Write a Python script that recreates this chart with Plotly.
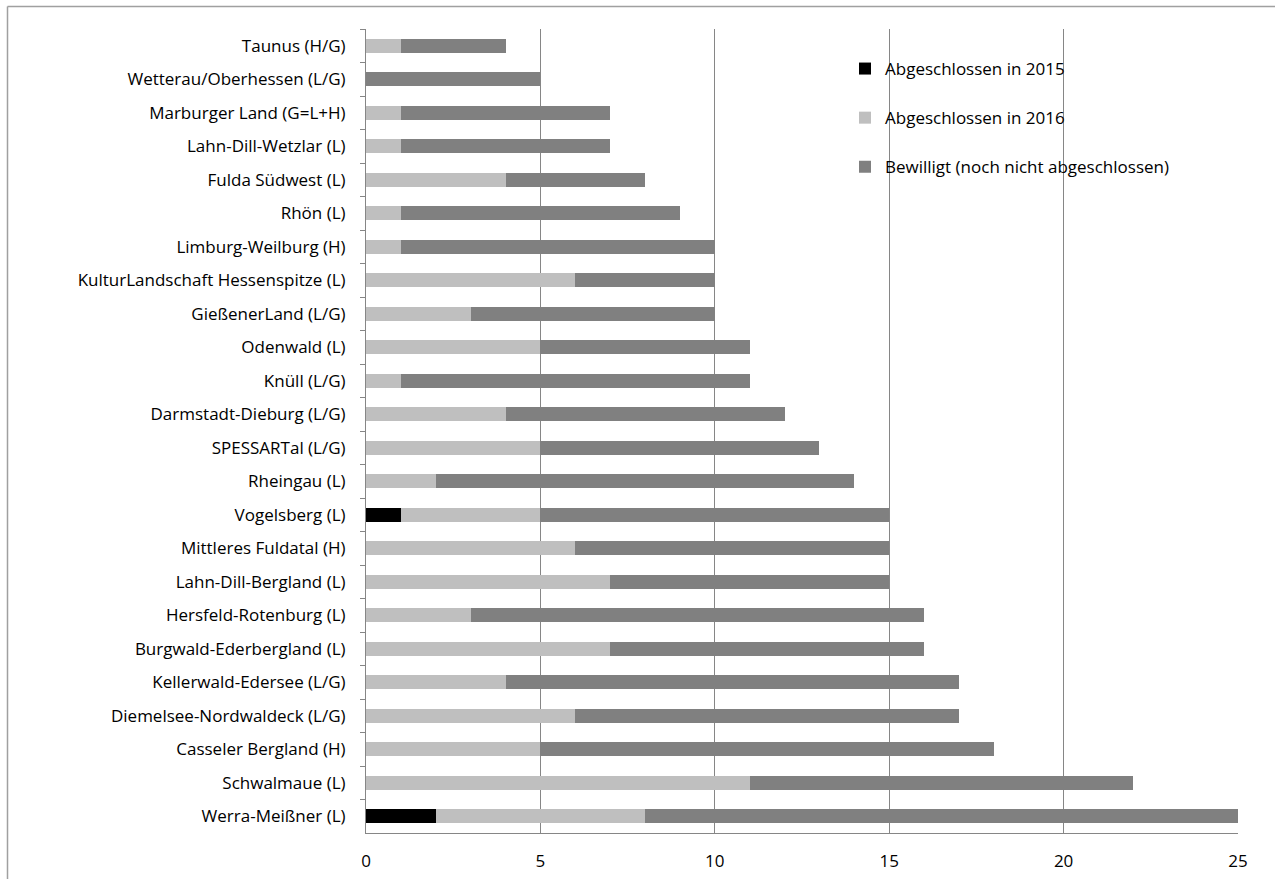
import plotly.graph_objects as go

# Regions (top to bottom as listed)
regions = [
    "Taunus (H/G)",
    "Wetterau/Oberhessen (L/G)",
    "Marburger Land (G=L+H)",
    "Lahn-Dill-Wetzlar (L)",
    "Fulda Südwest (L)",
    "Rhön (L)",
    "Limburg-Weilburg (H)",
    "KulturLandschaft Hessenspitze (L)",
    "GießenerLand (L/G)",
    "Odenwald (L)",
    "Knüll (L/G)",
    "Darmstadt-Dieburg (L/G)",
    "SPESSARTal (L/G)",
    "Rheingau (L)",
    "Vogelsberg (L)",
    "Mittleres Fuldatal (H)",
    "Lahn-Dill-Bergland (L)",
    "Hersfeld-Rotenburg (L)",
    "Burgwald-Ederbergland (L)",
    "Kellerwald-Edersee (L/G)",
    "Diemelsee-Nordwaldeck (L/G)",
    "Casseler Bergland (H)",
    "Schwalmaue (L)",
    "Werra-Meißner (L)",
]

abgeschlossen_2015 = [0, 0, 0, 0, 0, 0, 0, 0, 0, 0, 0, 0, 0, 0, 1, 0, 0, 0, 0, 0, 0, 0, 0, 2]
abgeschlossen_2016 = [1, 0, 1, 1, 4, 1, 1, 6, 3, 5, 1, 4, 5, 2, 4, 6, 7, 3, 7, 4, 6, 5, 11, 6]
bewilligt = [3, 5, 6, 6, 4, 8, 9, 4, 7, 6, 10, 8, 8, 12, 10, 9, 8, 13, 9, 13, 11, 13, 11, 17]

series = [
    ("Abgeschlossen in 2015", abgeschlossen_2015, "#000000"),
    ("Abgeschlossen in 2016", abgeschlossen_2016, "#bfbfbf"),
    ("Bewilligt (noch nicht abgeschlossen)", bewilligt, "#808080"),
]

FONT = "Open Sans"
FS = 17
GRID = "#868686"

fig = go.Figure()
for name, vals, color in series:
    fig.add_trace(go.Bar(
        y=regions, x=vals, name=name, orientation="h",
        marker=dict(color=color, line=dict(width=0)),
        legendgroup=name,
    ))

W, H = 1275, 879
ml, mr, mt, mb = 366, 37, 29, 46
pw, ph = W - ml - mr, H - mt - mb

def px_x(x):
    return (x - ml) / pw

def px_y(y):
    return (H - mb - y) / ph

fig.update_layout(
    width=W, height=H,
    margin=dict(l=ml, r=mr, t=mt, b=mb, pad=0, autoexpand=False),
    barmode="stack",
    bargap=0.58,
    plot_bgcolor="white",
    paper_bgcolor="white",
    font=dict(family=FONT, size=FS, color="#000000"),
    legend=dict(
        x=px_x(845), y=px_y(51), xanchor="left", yanchor="top",
        traceorder="grouped", tracegroupgap=24,
        font=dict(family=FONT, size=FS, color="#000000"),
        bgcolor="rgba(0,0,0,0)",
    ),
    xaxis=dict(
        range=[0, 25], dtick=5, tick0=0, automargin=False,
        showgrid=True, gridcolor=GRID, gridwidth=1,
        showline=True, linecolor=GRID, linewidth=1,
        zeroline=False, ticks="", ticklabelstandoff=13,
        tickfont=dict(family=FONT, size=FS, color="#000000"),
    ),
    yaxis=dict(
        autorange="reversed", automargin=False,
        showline=True, linecolor=GRID, linewidth=1,
        ticks="outside", tickson="boundaries", ticklen=5, tickcolor=GRID,
        showgrid=False, ticklabelstandoff=16,
        tickfont=dict(family=FONT, size=FS, color="#000000"),
    ),
    shapes=[
        dict(type="line", xref="paper", yref="paper",
             x0=px_x(7.5), x1=px_x(W), y0=px_y(6.5), y1=px_y(6.5),
             line=dict(color="#a0a0a0", width=1.5)),
        dict(type="line", xref="paper", yref="paper",
             x0=px_x(7.5), x1=px_x(7.5), y0=px_y(6.5), y1=px_y(H),
             line=dict(color="#a0a0a0", width=1.5)),
    ],
)

fig.write_html("out.html")
